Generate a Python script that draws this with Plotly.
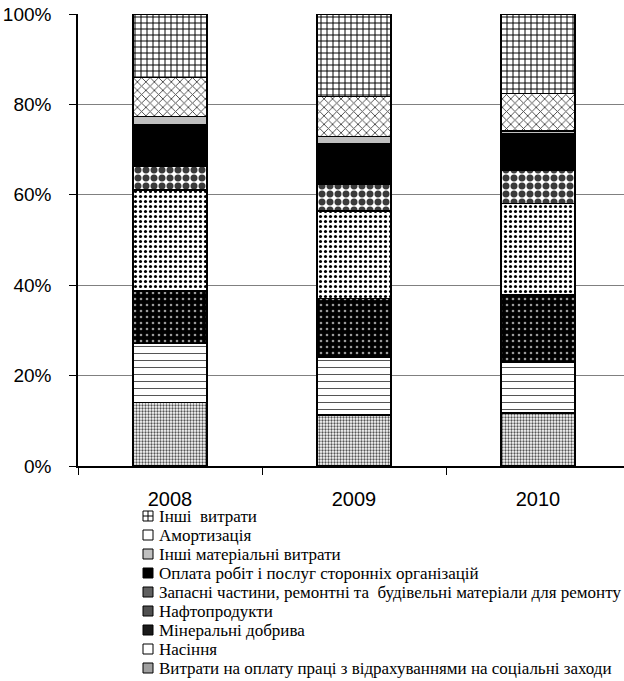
import plotly.graph_objects as go

# Cost structure by year, % of total
years = ["2008", "2009", "2010"]

labour = [14.0, 11.3, 11.7]          # Витрати на оплату праці з відрахуваннями
seeds = [13.1, 12.7, 11.2]           # Насіння
fertilizers = [11.6, 13.1, 14.9]     # Мінеральні добрива
fuel = [22.4, 19.3, 20.3]            # Нафтопродукти
spare_parts = [5.3, 5.9, 7.4]        # Запасні частини, ремонтні та будівельні матеріали
services = [9.2, 8.9, 7.9]           # Оплата робіт і послуг сторонніх організацій
other_materials = [1.7, 1.7, 0.7]    # Інші матеріальні витрати
depreciation = [8.6, 8.8, 8.3]       # Амортизація
other_costs = [14.1, 18.3, 17.6]     # Інші витрати

series_names = [
    "Витрати на оплату праці з відрахуваннями на соціальні заходи",
    "Насіння",
    "Мінеральні добрива",
    "Нафтопродукти",
    "Запасні частини, ремонтні та  будівельні матеріали для ремонту",
    "Оплата робіт і послуг сторонніх організацій",
    "Інші матеріальні витрати",
    "Амортизація",
    "Інші  витрати",
]
series_values = [labour, seeds, fertilizers, fuel, spare_parts, services,
                 other_materials, depreciation, other_costs]

# Monochrome fill patterns for each cost item (bottom to top)
patterns = [
    dict(shape=".", fgcolor="#555555", bgcolor="#ffffff", size=3, solidity=0.45),
    dict(shape="-", fgcolor="#555555", bgcolor="#ffffff", size=7, solidity=0.15),
    dict(shape=".", fgcolor="#9a9a9a", bgcolor="#000000", size=6, solidity=0.15),
    dict(shape=".", fgcolor="#000000", bgcolor="#ffffff", size=5, solidity=0.3),
    dict(shape=".", fgcolor="#3a3a3a", bgcolor="#ffffff", size=8, solidity=0.6),
    None,
    None,
    dict(shape="x", fgcolor="#444444", bgcolor="#ffffff", size=6, solidity=0.28),
    dict(shape="+", fgcolor="#000000", bgcolor="#ffffff", size=6, solidity=0.3),
]
solid_colors = [None, None, None, None, None, "#000000", "#c0c0c0", None, None]

# Small legend key fills (average tone of each pattern)
key_fills = ["#a0a0a0", "#ffffff", "#1a1a1a", "#505050", "#606060",
             "#000000", "#c0c0c0", "#ffffff", "#ffffff"]

fig = go.Figure()
for name, vals, pat, col in zip(series_names, series_values, patterns, solid_colors):
    marker = dict(line=dict(color="#000000", width=1.5))
    if pat is None:
        marker["color"] = col
    else:
        marker["color"] = pat["bgcolor"]
        marker["pattern"] = dict(shape=pat["shape"], fgcolor=pat["fgcolor"],
                                 bgcolor=pat["bgcolor"], size=pat["size"],
                                 solidity=pat["solidity"], fillmode="replace")
    fig.add_trace(go.Bar(x=years, y=vals, name=name, marker=marker, showlegend=False))

W, H = 624, 681
ml, mt, mb = 78, 14, 215
plot_w = W - ml
plot_h = H - mt - mb
cat_w = 184.0


def px_x(px):
    return (px - ml) / plot_w


def px_y(py):
    return (mt + plot_h - py) / plot_h


# Legend drawn as a column of keys and labels under the chart (top entry first)
row0, row_step = 516.0, 19.0
key_x0, key_x1, text_x = 143, 153, 157
annotations = []
shapes = []
for i, idx in enumerate(reversed(range(len(series_names)))):
    yc = row0 + i * row_step
    shapes.append(dict(type="rect", xref="paper", yref="paper",
                       x0=px_x(key_x0), x1=px_x(key_x1),
                       y0=px_y(yc - 5), y1=px_y(yc + 5),
                       fillcolor=key_fills[idx],
                       line=dict(color="#000000", width=1)))
    if idx == len(series_names) - 1:
        shapes.append(dict(type="line", xref="paper", yref="paper",
                           x0=px_x(148), x1=px_x(148), y0=px_y(yc - 5), y1=px_y(yc + 5),
                           line=dict(color="#000000", width=1)))
        shapes.append(dict(type="line", xref="paper", yref="paper",
                           x0=px_x(key_x0), x1=px_x(key_x1), y0=px_y(yc), y1=px_y(yc),
                           line=dict(color="#000000", width=1)))
    annotations.append(dict(
        xref="paper", yref="paper", x=px_x(text_x), y=px_y(yc),
        xanchor="left", yanchor="middle", showarrow=False,
        text=series_names[idx],
        font=dict(family="Liberation Serif, Times New Roman, serif", size=17, color="#000000"),
    ))

fig.update_layout(
    width=W, height=H,
    margin=dict(l=ml, r=0, t=mt, b=mb, pad=0, autoexpand=False),
    barmode="stack",
    bargap=0.6,
    plot_bgcolor="#ffffff",
    paper_bgcolor="#ffffff",
    showlegend=False,
    font=dict(family="Liberation Sans", color="#000000"),
    annotations=annotations,
    shapes=shapes,
)

fig.update_xaxes(
    type="category",
    range=[-0.5, -0.5 + plot_w / cat_w],
    showline=True, linecolor="#000000", linewidth=1.5,
    ticks="outside", tickson="boundaries", ticklen=7, tickcolor="#000000", tickwidth=1,
    tickfont=dict(size=20, family="Liberation Sans"),
    ticklabelstandoff=14,
    showgrid=False,
)
fig.update_yaxes(
    range=[0, 100],
    tickvals=[0, 20, 40, 60, 80, 100],
    ticktext=["0%", "20%", "40%", "60%", "80%", "100%"],
    showline=True, linecolor="#000000", linewidth=1.5,
    ticks="outside", ticklen=7, tickcolor="#000000", tickwidth=1,
    tickfont=dict(size=19, family="Liberation Sans"),
    ticklabelstandoff=14,
    showgrid=True, gridcolor="#808080", gridwidth=1.2,
    zeroline=False,
)

fig.write_html("out.html")
